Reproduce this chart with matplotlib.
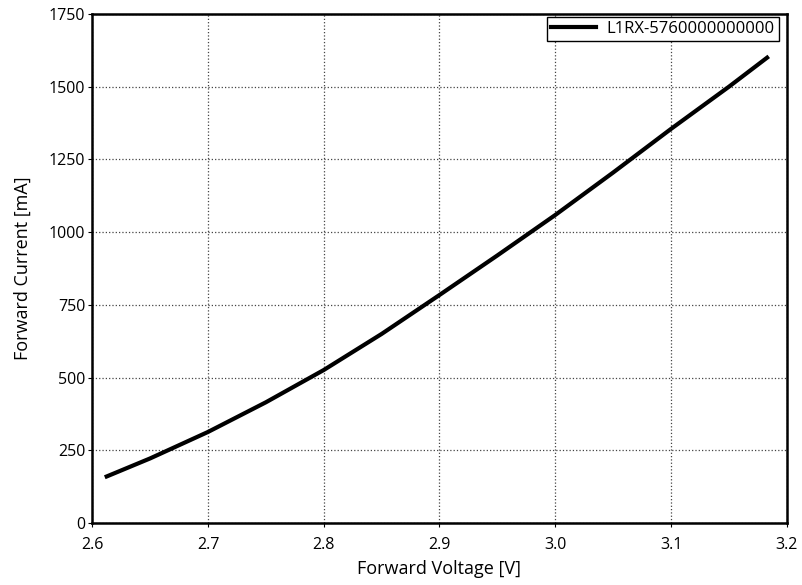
import matplotlib
matplotlib.use("Agg")
import matplotlib.pyplot as plt

plt.rcParams['font.family'] = ['Open Sans', 'DejaVu Sans']

# forward voltage [V] vs forward current [mA]
voltage = [2.6125, 2.65, 2.70, 2.75, 2.80, 2.85, 2.90, 2.95, 3.00, 3.05, 3.10, 3.15, 3.183]
current = [160, 222, 313, 415, 526, 650, 784, 920, 1059, 1205, 1355, 1500, 1600]
label = "L1RX-5760000000000"

fig, ax = plt.subplots(figsize=(8.02, 5.85), dpi=100)
fig.subplots_adjust(left=0.115, right=0.981, top=0.976, bottom=0.106)

ax.plot(voltage, current, color='black', linewidth=3, label=label)

ax.set_xlim(2.6, 3.2)
ax.set_ylim(0, 1750)
ax.set_xticks([2.6, 2.7, 2.8, 2.9, 3.0, 3.1, 3.2])
ax.set_yticks(range(0, 1751, 250))
ax.grid(True, linestyle=':', color='#444444', linewidth=0.9)
ax.tick_params(labelsize=11.5, length=3, width=0.8, pad=2)
ax.tick_params(axis='x', pad=7)
for s in ax.spines.values():
    s.set_linewidth(1.8)

ax.set_xlabel("Forward Voltage [V]", fontsize=13, labelpad=5)
ax.set_ylabel("Forward Current [mA]", fontsize=13, labelpad=12)

leg = ax.legend(loc='upper right', bbox_to_anchor=(0.9885, 0.994), borderaxespad=0,
                fontsize=12, fancybox=False, framealpha=1, edgecolor='black',
                handlelength=2.7, handletextpad=0.6, borderpad=0.25)
leg.get_frame().set_linewidth(1.0)

fig.savefig("out.png", dpi=100)
